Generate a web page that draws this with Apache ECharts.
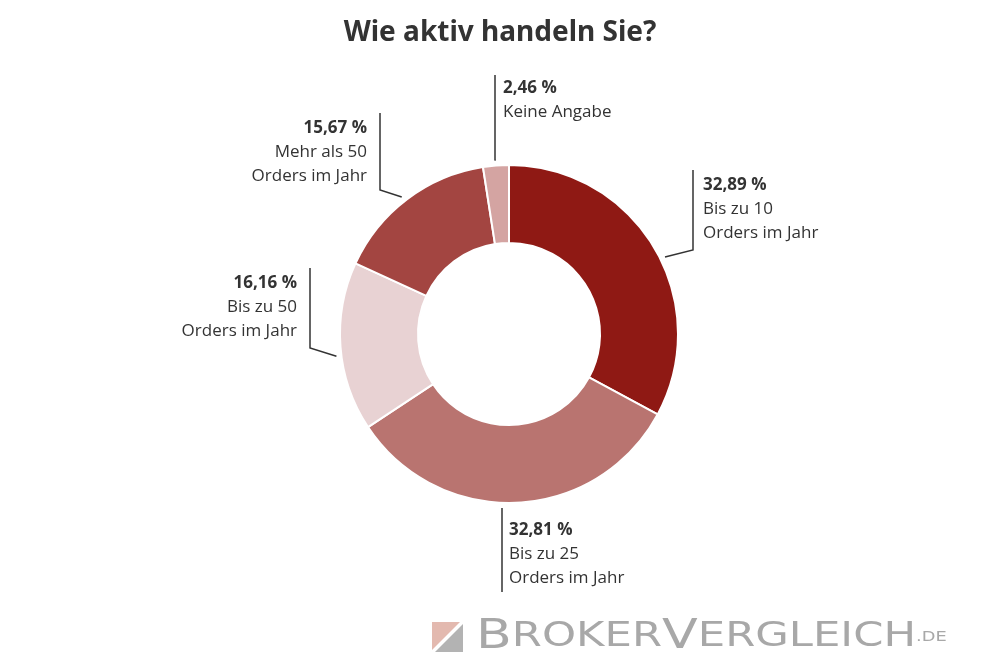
<!DOCTYPE html>
<html>
<head>
<meta charset="utf-8">
<script src="https://cdn.jsdelivr.net/npm/echarts@6/dist/echarts.min.js"></script>
<style>
html,body{margin:0;padding:0;background:#fff;}
#chart{width:1000px;height:672px;}
</style>
</head>
<body>
<div id="chart"></div>
<script>
// ---- data ----
const categories = ['Bis zu 10\nOrders im Jahr', 'Bis zu 25\nOrders im Jahr', 'Bis zu 50\nOrders im Jahr', 'Mehr als 50\nOrders im Jahr', 'Keine Angabe'];
const values = [32.89, 32.81, 16.16, 15.67, 2.46];
const colors = ['#8f1914', '#b97470', '#e8d2d3', '#a34541', '#d4a4a2'];
const titleText = 'Wie aktiv handeln Sie?';

// ---- layout (positions / styles) ----
const CX = 509, CY = 334, R_IN = 91, R_OUT = 169;
const LABELS = [
  {x: 703, y: 173, align: 'left',  shift: 4.5, pts: [[693, 250], [693, 170]]},
  {x: 509, y: 518, align: 'left',  start: [502, 508], pts: [[502, 592]]},
  {x: 297, y: 271, align: 'right', shift: -3, pts: [[310, 348], [310, 268]]},
  {x: 367, y: 116, align: 'right', shift: -1, pts: [[380, 190], [380, 113]]},
  {x: 503, y: 76,  align: 'left',  shift: 0, pts: [[495, 160], [495, 75]]}
];

const chart = echarts.init(document.getElementById('chart'), null, {renderer: 'canvas'});

function fmtPct(v) { return v.toFixed(2).replace('.', ',') + ' %'; }

const LOGO_FONT = 'DejaVu Sans';
const LOGO_W = 'normal';
const logoRich = {
  a: {fontFamily: LOGO_FONT, fontWeight: LOGO_W, fontSize: 41, fill: '#a8a8a8'},
  b: {fontFamily: LOGO_FONT, fontWeight: LOGO_W, fontSize: 34, fill: '#a8a8a8'},
  c: {fontFamily: LOGO_FONT, fontWeight: LOGO_W, fontSize: 14, fill: '#a8a8a8'}
};
const mctx = document.createElement('canvas').getContext('2d');
function mw(t, fs) { mctx.font = LOGO_W + ' ' + fs + 'px "' + LOGO_FONT + '"'; return mctx.measureText(t).width; }
const mainW = mw('B', 41) + mw('ROKER', 34) + mw('V', 41) + mw('ERGLEICH', 34);
const logoScale = 440 / mainW;

const option = {
  backgroundColor: '#ffffff',
  title: {
    text: titleText,
    left: 'center',
    top: 14,
    textStyle: {fontFamily: 'Noto Sans', fontWeight: 'bold', fontSize: 28, color: '#333333'}
  },
  series: [{
    type: 'pie',
    center: [CX, CY],
    radius: [R_IN, R_OUT],
    startAngle: 90,
    clockwise: true,
    avoidLabelOverlap: false,
    animation: false,
    itemStyle: {borderColor: '#ffffff', borderWidth: 2},
    label: {
      show: true,
      position: 'outside',
      formatter: function (p) {
        const lines = p.name.split('\n').map(s => '{n|' + s + '}');
        return '{b|' + fmtPct(p.value) + '}\n' + lines.join('\n');
      },
      rich: {
        b: {fontFamily: 'Open Sans', fontWeight: 'bold', fontSize: 17, lineHeight: 24, color: '#333333'},
        n: {fontFamily: 'Open Sans', fontSize: 17, lineHeight: 24, color: '#333333'}
      }
    },
    labelLine: {show: true, lineStyle: {color: '#333333', width: 1.5}},
    labelLayout: function (params) {
      const L = LABELS[params.dataIndex];
      let start;
      if (L.start) {
        start = L.start;
      } else {
        const p0 = params.labelLinePoints[0];
        let a = Math.atan2(p0[1] - CY, p0[0] - CX) + (L.shift || 0) * Math.PI / 180;
        const r = R_OUT + 5;
        start = [CX + r * Math.cos(a), CY + r * Math.sin(a)];
      }
      const pts = [start].concat(L.pts);
      if (pts.length === 2) pts.splice(1, 0, L.pts[0]);
      return {
        x: L.x, y: L.y, align: L.align, verticalAlign: 'top',
        labelLinePoints: pts
      };
    },
    data: categories.map((c, i) => ({name: c, value: values[i], itemStyle: {color: colors[i]}}))
  }],
  graphic: [
    {type: 'polygon', shape: {points: [[432, 622], [460, 622], [432, 650]]}, style: {fill: '#e3b9af'}, silent: true},
    {type: 'polygon', shape: {points: [[463, 624], [463, 652], [435, 652]]}, style: {fill: '#b3b3b3'}, silent: true},
    {
      type: 'text', left: 476, top: 617, scaleX: logoScale, silent: true,
      style: {
        text: '{a|B}{b|ROKER}{a|V}{b|ERGLEICH}{c|.DE}',
        rich: logoRich
      }
    }
  ]
};
chart.setOption(option);
</script>
</body>
</html>
